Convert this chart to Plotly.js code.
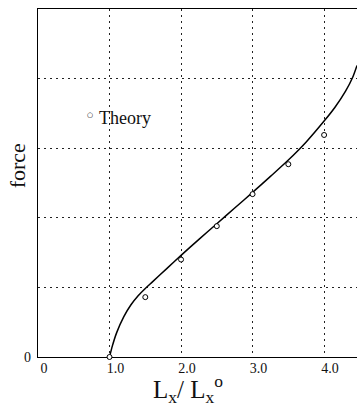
<!DOCTYPE html>
<html>
<head>
<meta charset="utf-8">
<script src="https://cdn.plot.ly/plotly-3.0.1.min.js"></script>
<style>
  html, body { margin: 0; padding: 0; background: #fff; }
  #chart { width: 357px; height: 408px; }
</style>
</head>
<body>
<div id="chart"></div>
<script>
// Theory points (open circles)
const theoryX = [1.0, 1.5, 2.0, 2.5, 3.0, 3.5, 4.0];
const theoryY = [0, 0.86, 1.40, 1.88, 2.34, 2.77, 3.19];

// Measured curve (solid line)
const curveX = [1.0, 1.04, 1.1, 1.2, 1.3, 1.4, 1.5, 1.6, 1.8, 2.0, 2.25, 2.5, 2.75, 3.0, 3.25, 3.5, 3.75, 4.0, 4.15, 4.3, 4.4, 4.46];
const curveY = [0, 0.16, 0.35, 0.58, 0.75, 0.88, 0.985, 1.08, 1.27, 1.46, 1.69, 1.915, 2.14, 2.365, 2.595, 2.83, 3.09, 3.39, 3.585, 3.82, 4.02, 4.19];

// Axis ticks
const xTickVals = [0, 1, 2, 3, 4];
const xTickText = ["0", "1.0", "2.0", "3.0", "4.0"];
const yTickVals = [0];
const yTickText = ["0"];
const yGridVals = [1, 2, 3, 4];

const serif = "Liberation Serif, Times New Roman, serif";

const traces = [
  {
    x: curveX, y: curveY, type: "scatter", mode: "lines",
    line: { color: "#000", width: 1.5, shape: "spline", smoothing: 0.8 },
    hoverinfo: "skip", showlegend: false, cliponaxis: true
  },
  {
    x: theoryX, y: theoryY, type: "scatter", mode: "markers",
    name: "Theory",
    marker: { symbol: "circle", size: 5, color: "#fff", line: { color: "#000", width: 1 } },
    showlegend: false, cliponaxis: false
  }
];

const gridStyle = { showgrid: true, gridcolor: "#222", gridwidth: 1, griddash: "2px,4px" };

const layout = {
  width: 357, height: 408,
  margin: { l: 38, r: 0, t: 9, b: 51 },
  paper_bgcolor: "#fff", plot_bgcolor: "#fff",
  font: { family: serif, color: "#111", size: 14 },
  showlegend: false,
  xaxis: Object.assign({
    range: [0, 4.46],
    tickmode: "array", tickvals: xTickVals, ticktext: xTickText,
    ticks: "", ticklabelshift: 6, ticklabelstandoff: -2,
    showline: true, linecolor: "#000", linewidth: 1.2, mirror: true,
    zeroline: false, layer: "below traces",
    tickfont: { family: serif, size: 14, color: "#111" }
  }, gridStyle),
  yaxis: Object.assign({
    range: [0, 5],
    tickmode: "array", tickvals: yTickVals, ticktext: yTickText,
    ticks: "", ticklabelstandoff: 3,
    showline: true, linecolor: "#000", linewidth: 1.2, mirror: false,
    zeroline: false, layer: "below traces",
    tickfont: { family: serif, size: 14, color: "#111" },
    minor: Object.assign({ tickmode: "array", tickvals: yGridVals, ticks: "" }, gridStyle)
  }, gridStyle),
  annotations: [
    {
      text: "force", textangle: -90,
      xref: "paper", yref: "paper", x: 0, y: 0.548,
      xanchor: "center", yanchor: "middle", xshift: -21,
      showarrow: false, font: { family: serif, size: 22, color: "#111" }
    },
    {
      text: "L<sub>x</sub>/ L<sub>x</sub><sup>o</sup>",
      xref: "paper", yref: "paper", x: 0.471, y: -0.1466,
      xanchor: "center", yanchor: "bottom", yshift: -1,
      showarrow: false, font: { family: serif, size: 25, color: "#111" }
    },
    {
      text: "Theory",
      xref: "paper", yref: "paper", x: 0.185, y: 0.687,
      xanchor: "left", yanchor: "middle",
      showarrow: false, font: { family: serif, size: 18, color: "#111" }
    },
    {
      text: "<b>○</b>",
      xref: "paper", yref: "paper", x: 0.163, y: 0.695,
      xanchor: "center", yanchor: "middle",
      showarrow: false, font: { family: "DejaVu Sans", size: 7, color: "#000" }
    }
  ]
};

Plotly.newPlot("chart", traces, layout, { staticPlot: true, displayModeBar: false });
</script>
</body>
</html>
